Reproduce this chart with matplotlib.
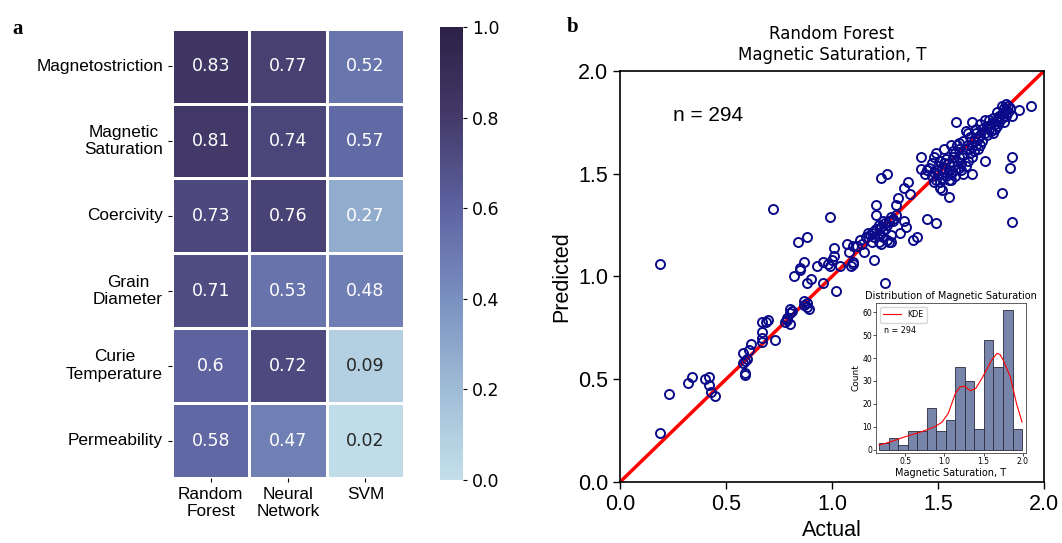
import numpy as np
import matplotlib
matplotlib.use('Agg')
import matplotlib.pyplot as plt
import seaborn as sns
from matplotlib.colors import LinearSegmentedColormap

# panel a: R^2 scores
properties = ['Magnetostriction', 'Magnetic\nSaturation', 'Coercivity',
              'Grain\nDiameter', 'Curie\nTemperature', 'Permeability']
models = ['Random\nForest', 'Neural\nNetwork', 'SVM']
random_forest = [0.83, 0.81, 0.73, 0.71, 0.6, 0.58]
neural_network = [0.77, 0.74, 0.76, 0.53, 0.72, 0.47]
svm = [0.52, 0.57, 0.27, 0.48, 0.09, 0.02]

# panel b: actual vs predicted magnetic saturation
actual = [
    0.19, 0.23, 0.32, 0.34, 0.40, 0.42, 0.42, 0.43, 0.45, 0.58, 0.59, 0.60, 0.58, 0.59, 0.59, 0.61,
    0.62, 0.67, 0.67, 0.67, 0.67, 0.69, 0.70, 0.73, 0.78, 0.79, 0.80, 0.80, 0.80, 0.79, 0.81, 0.87,
    0.88, 0.88, 0.89, 0.87, 0.19,
    0.72, 0.99, 0.84, 0.88, 0.87, 0.85, 0.85, 0.82, 0.90, 0.88, 0.96, 1.02, 0.93, 0.96, 0.98, 0.99,
    1.00, 1.01, 1.01, 1.04, 1.07, 1.10, 1.08, 1.10, 1.09, 1.10, 1.12, 1.13, 1.15, 1.17, 1.18, 1.19,
    1.20, 1.21, 1.22, 1.22, 1.23, 1.24, 1.25, 1.21, 1.21, 1.20, 1.25, 1.27, 1.28, 1.28, 1.29, 1.30,
    1.31, 1.34, 1.35, 1.34, 1.36, 1.37, 1.32, 1.38, 1.40, 1.45, 1.49, 1.23, 1.26, 1.24, 1.22, 1.23,
    1.26, 1.26, 1.27, 1.28, 1.29, 1.30, 1.25, 1.24, 1.20, 1.19, 1.16, 1.14,
    1.42, 1.42, 1.44, 1.48, 1.51, 1.52, 1.55, 1.55, 1.48, 1.49, 1.53, 1.56, 1.60, 1.585, 1.63, 1.66,
    1.66, 1.72, 1.80, 1.85, 1.84, 1.85, 1.94, 1.88, 1.85,
    1.45, 1.46, 1.47, 1.48, 1.49, 1.50, 1.50, 1.51, 1.52, 1.53, 1.53, 1.54, 1.55, 1.55, 1.56, 1.57,
    1.57, 1.58, 1.58, 1.59, 1.60, 1.60, 1.61, 1.62, 1.62, 1.63, 1.64, 1.52, 1.51, 1.49, 1.47, 1.54,
    1.56, 1.58, 1.61, 1.63, 1.65, 1.64, 1.66, 1.67, 1.68, 1.69, 1.70, 1.68, 1.67, 1.69, 1.66, 1.71,
    1.72, 1.73, 1.74, 1.75, 1.76, 1.77, 1.78, 1.79, 1.80, 1.81, 1.82, 1.83, 1.82, 1.81, 1.80, 1.78,
    1.76, 1.74, 1.73, 1.71, 1.70, 1.75, 1.77, 1.79, 1.82, 1.83, 1.84, 1.70, 1.72, 1.68, 1.65, 1.64,
    1.62, 1.60, 1.59, 1.57, 1.76, 1.78, 1.80, 1.81,
]
predicted = [
    0.24, 0.43, 0.48, 0.51, 0.50, 0.51, 0.47, 0.44, 0.42, 0.58, 0.59, 0.60, 0.63, 0.53, 0.52, 0.64,
    0.67, 0.73, 0.70, 0.68, 0.78, 0.78, 0.79, 0.69, 0.78, 0.79, 0.77, 0.84, 0.82, 0.80, 0.83, 0.86,
    0.87, 0.85, 0.84, 0.88, 1.06,
    1.33, 1.29, 1.17, 1.19, 1.07, 1.04, 1.03, 1.00, 0.99, 0.97, 0.97, 0.93, 1.05, 1.07, 1.06, 1.05,
    1.08, 1.10, 1.14, 1.05, 1.16, 1.15, 1.12, 1.07, 1.05, 1.06, 1.15, 1.18, 1.12, 1.21, 1.20, 1.21,
    1.22, 1.23, 1.21, 1.25, 1.24, 1.22, 1.23, 1.35, 1.30, 1.08, 0.97, 1.17, 1.17, 1.20, 1.28, 1.35,
    1.38, 1.27, 1.24, 1.43, 1.46, 1.40, 1.21, 1.18, 1.19, 1.28, 1.26, 1.48, 1.50, 1.19, 1.17, 1.16,
    1.18, 1.25, 1.27, 1.29, 1.27, 1.30, 1.26, 1.27, 1.19, 1.17, 1.19, 1.16,
    1.58, 1.525, 1.50, 1.46, 1.43, 1.42, 1.385, 1.47, 1.58, 1.60, 1.62, 1.64, 1.65, 1.75, 1.71, 1.75,
    1.50, 1.56, 1.405, 1.265, 1.53, 1.58, 1.83, 1.81, 1.78,
    1.52, 1.53, 1.55, 1.51, 1.52, 1.54, 1.50, 1.56, 1.53, 1.51, 1.55, 1.57, 1.52, 1.55, 1.50, 1.54,
    1.58, 1.52, 1.60, 1.56, 1.53, 1.58, 1.55, 1.59, 1.50, 1.62, 1.56, 1.48, 1.46, 1.47, 1.49, 1.49,
    1.47, 1.49, 1.52, 1.54, 1.60, 1.64, 1.63, 1.66, 1.64, 1.67, 1.69, 1.70, 1.61, 1.62, 1.58, 1.72,
    1.70, 1.73, 1.72, 1.74, 1.75, 1.74, 1.76, 1.78, 1.79, 1.80, 1.81, 1.83, 1.84, 1.82, 1.77, 1.73,
    1.77, 1.76, 1.69, 1.66, 1.64, 1.71, 1.72, 1.75, 1.78, 1.80, 1.82, 1.74, 1.76, 1.72, 1.68, 1.70,
    1.66, 1.62, 1.64, 1.61, 1.70, 1.80, 1.83, 1.75,
]
n_samples = 294

# inset histogram
hist_counts = [3, 5, 2, 8, 8, 18, 8, 13, 36, 30, 9, 48, 36, 61, 9]
hist_start, hist_stop = 0.17, 1.99
kde_x = [0.17, 0.30, 0.49, 0.70, 0.88, 0.97, 1.05, 1.14, 1.20, 1.26, 1.33, 1.40, 1.49, 1.60,
         1.67, 1.71, 1.75, 1.84, 1.92, 1.99]
kde_y = [2.0, 3.2, 5.5, 7.7, 10.0, 12.0, 15.8, 24.5, 27.4, 27.7, 25.7, 26.7, 31.8, 39.0,
         42.0, 41.5, 39.0, 31.8, 20.0, 12.0]

cmap = LinearSegmentedColormap.from_list(
    'r2', ['#c4dfea', '#9fbcd6', '#7a90c0', '#5e63a0', '#433a6a', '#2c2145'])

fig = plt.figure(figsize=(10.62, 5.43), dpi=100)

# ---- panel a
ax_hm = fig.add_axes([0.162, 0.1197, 0.2185, 0.8274])
ax_cb = fig.add_axes([0.4143, 0.116, 0.0217, 0.834])
scores = np.array([random_forest, neural_network, svm]).T
sns.heatmap(scores, ax=ax_hm, cbar_ax=ax_cb, cmap=cmap, vmin=0, vmax=1,
            annot=True, fmt='g', linewidths=2, linecolor='white',
            annot_kws={'size': 12.5}, xticklabels=models, yticklabels=properties)
for t in ax_hm.texts:
    t.set_color('white' if float(t.get_text()) > 0.2 else '#262626')
ax_hm.set_yticklabels(properties, rotation=0, fontsize=12.4, family='Liberation Sans',
                      multialignment='center')
ax_hm.set_xticklabels(models, rotation=0, fontsize=12.4, family='Liberation Sans',
                      multialignment='center')
ax_hm.tick_params(length=3, width=0.8)
ax_cb.tick_params(labelsize=12.5, length=3, width=0.8)
ax_cb.set_yticks([0, 0.2, 0.4, 0.6, 0.8, 1.0])

fig.text(0.012, 0.965, 'a', fontsize=15, fontweight='bold', family='Liberation Serif', va='top')
fig.text(0.534, 0.968, 'b', fontsize=15, fontweight='bold', family='Liberation Serif', va='top')

# ---- panel b
ax = fig.add_axes([0.5838, 0.1123, 0.3992, 0.757])
ax.plot([0, 2], [0, 2], color='red', lw=2.5, zorder=1)
ax.plot(actual, predicted, 'o', mfc='none', mec='#0a0a8a', ms=6.5, mew=1.4, zorder=2)
ax.set_xlim(0, 2)
ax.set_ylim(0, 2)
ax.set_xticks([0.0, 0.5, 1.0, 1.5, 2.0])
ax.set_yticks([0.0, 0.5, 1.0, 1.5, 2.0])
for lab in ax.get_xticklabels() + ax.get_yticklabels():
    lab.set_family('Liberation Sans')
    lab.set_fontsize(15.5)
ax.tick_params(length=5, width=1)
ax.set_xlabel('Actual', fontsize=15.5, family='Liberation Sans')
ax.set_ylabel('Predicted', fontsize=15.5, family='Liberation Sans')
ax.set_title('Random Forest\nMagnetic Saturation, T', fontsize=12, pad=8)
ax.text(0.25, 1.785, 'n = %d' % n_samples, fontsize=15, family='Liberation Sans', va='center')
for s in ax.spines.values():
    s.set_linewidth(1.2)

# inset
axi = fig.add_axes([0.8249, 0.1657, 0.1412, 0.2762])
edges = np.linspace(hist_start, hist_stop, len(hist_counts) + 1)
axi.bar(edges[:-1], hist_counts, width=np.diff(edges), align='edge',
        color='#7885aa', edgecolor='#2a2a3a', linewidth=0.6)
axi.plot(kde_x, kde_y, color='red', lw=0.8, label='KDE')
axi.set_xlim(0.13, 2.04)
axi.set_ylim(-1.5, 64)
axi.set_xticks([0.5, 1.0, 1.5, 2.0])
axi.set_yticks([0, 10, 20, 30, 40, 50, 60])
axi.tick_params(labelsize=5.5, length=2, width=0.5, pad=1)
axi.set_xlabel('Magnetic Saturation, T', fontsize=7, labelpad=1)
axi.set_ylabel('Count', fontsize=6.5, labelpad=1)
axi.set_title('Distribution of Magnetic Saturation', fontsize=7, pad=3)
axi.legend(loc='upper left', fontsize=5.8, handlelength=2.2, borderpad=0.4)
axi.text(0.05, 0.8, 'n = %d' % n_samples, transform=axi.transAxes, fontsize=5.8)
for s in axi.spines.values():
    s.set_linewidth(0.6)
    s.set_color('#444444')

fig.savefig('out.png', dpi=100)
